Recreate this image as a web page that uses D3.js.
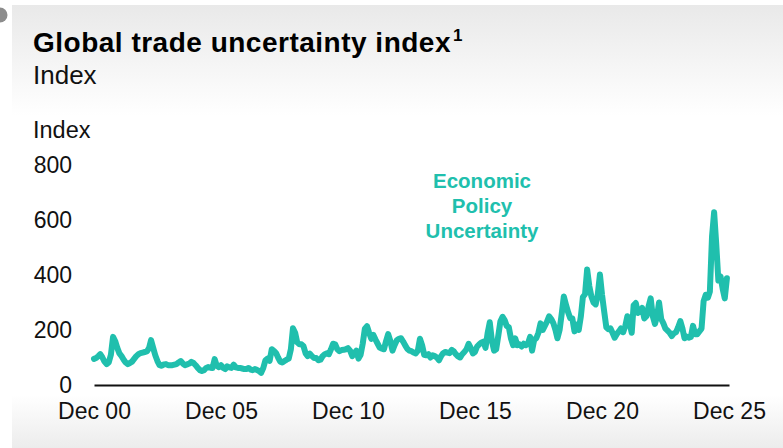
<!DOCTYPE html>
<html>
<head>
<meta charset="utf-8">
<script src="https://cdn.jsdelivr.net/npm/d3@7"></script>
<style>
  html, body { margin: 0; padding: 0; background: #fff; }
  svg { display: block; font-family: "Liberation Sans", Arial, sans-serif; }
</style>
</head>
<body>
<svg id="chart" width="783" height="448"></svg>
<script>
// monthly index values, starting Dec 2000
const epu2001to2005 = [
  95, 98, 105, 112, 100, 85, 76, 82, 110, 175, 160, 135,
  115, 105, 92, 82, 76, 80, 85, 95, 105, 112, 116, 118,
  120, 122, 135, 163, 135, 108, 87, 72, 70, 75, 76, 72,
  72, 72, 74, 76, 82, 87, 78, 72, 75, 78, 84, 80,
  72, 62, 54, 51, 54, 62, 65, 63, 62, 94, 70, 65
]
const epu2006to2010 = [
  72, 62, 58, 68, 64, 62, 74, 64, 62, 62, 60, 58,
  58, 62, 56, 54, 58, 55, 51, 44, 62, 90, 96, 88,
  130, 124, 116, 100, 85, 82, 87, 92, 96, 130, 206, 190,
  155, 148, 148, 141, 115, 105, 114, 105, 98, 98, 90, 92,
  105, 112, 115, 112, 130, 150, 148, 130, 123, 127, 128, 130
]
const epu2011to2015 = [
  134, 125, 105, 115, 125, 96, 110, 150, 205, 214, 190, 168,
  182, 165, 150, 136, 132, 130, 160, 185, 160, 125, 145, 162,
  168, 170, 158, 145, 132, 125, 123, 118, 115, 125, 168, 145,
  110, 108, 112, 100, 108, 105, 100, 90, 105, 116, 120, 118,
  116, 128, 122, 112, 104, 100, 112, 120, 130, 150, 135, 115
]
const epu2016to2020 = [
  120, 140, 148, 154, 158, 135, 190, 228, 160, 125, 130, 180,
  232, 248, 235, 215, 210, 170, 145, 170, 145, 148, 140, 150,
  145, 150, 175, 125, 165, 170, 190, 224, 200, 215, 230, 250,
  240, 225, 200, 170, 200, 258, 322, 293, 265, 243, 243, 195,
  220, 200, 250, 320, 330, 420, 360, 322, 300, 293, 330, 402
]
const epu2021to2025 = [
  329, 268, 210, 203, 206, 190, 172, 185, 195, 206, 192, 215,
  250, 225, 190, 290, 298, 262, 270, 280, 242, 250, 285, 315,
  250, 222, 250, 300, 240, 225, 205, 198, 190, 178, 188, 192,
  210, 232, 205, 170, 176, 172, 175, 215, 185, 185, 195, 205,
  305, 328, 318, 340, 540, 628, 510, 380, 395, 350, 315, 388
]
const yTicks = [0, 200, 400, 600, 800]
const xTickYears = [2000, 2005, 2010, 2015, 2020, 2025]

const lineColor = '#20bfad'
const width = 783
const height = 448
const margin = { top: 165, right: 54, bottom: 63, left: 94 }

const values = [].concat(epu2001to2005, epu2006to2010, epu2011to2015, epu2016to2020, epu2021to2025)
const start = new Date(2000, 11, 1)
const data = values.map((v, i) => ({ date: d3.timeMonth.offset(start, i), value: v }))

const svg = d3.select('#chart')

// card background
const defs = svg.append('defs')
const grad = defs.append('linearGradient')
  .attr('id', 'bg')
  .attr('x1', 0).attr('y1', 0).attr('x2', 0).attr('y2', 1)
grad.append('stop').attr('offset', '0%').attr('stop-color', '#e9e9e9')
grad.append('stop').attr('offset', '25%').attr('stop-color', '#ffffff')
grad.append('stop').attr('offset', '88%').attr('stop-color', '#ffffff')
grad.append('stop').attr('offset', '100%').attr('stop-color', '#ececec')

svg.append('rect')
  .attr('x', 12).attr('y', 5)
  .attr('width', width - 12).attr('height', height - 5)
  .attr('fill', 'url(#bg)')

svg.append('circle')
  .attr('cx', 0).attr('cy', 15).attr('r', 7.5)
  .attr('fill', '#8c8c8c')

// titles
const title = svg.append('text')
  .attr('x', 33).attr('y', 52)
  .attr('font-size', 28).attr('font-weight', 'bold').attr('fill', '#000')
  .attr('letter-spacing', 0.5)
title.append('tspan').text('Global trade uncertainty index')
title.append('tspan').attr('font-size', 17).attr('dy', -11).attr('dx', 2).text('1')

svg.append('text')
  .attr('x', 33).attr('y', 84)
  .attr('font-size', 26).attr('fill', '#111')
  .text('Index')

svg.append('text')
  .attr('x', 33).attr('y', 138)
  .attr('font-size', 23.5).attr('fill', '#111')
  .text('Index')

// scales
const x = d3.scaleTime()
  .domain([start, new Date(2025, 11, 1)])
  .range([margin.left, width - margin.right])
const y = d3.scaleLinear()
  .domain([0, 800])
  .range([height - margin.bottom, margin.top])

// y axis
const yAxis = svg.append('g')
  .attr('transform', `translate(${margin.left},0)`)
  .call(d3.axisLeft(y).tickValues(yTicks).tickSize(0).tickPadding(22))
yAxis.select('.domain').remove()
yAxis.selectAll('text')
  .attr('font-size', 23).attr('font-family', '"Liberation Sans", Arial, sans-serif')
  .attr('fill', '#111')

// line
const line = d3.line()
  .x(d => x(d.date))
  .y(d => y(d.value))

svg.append('path')
  .datum(data)
  .attr('fill', 'none')
  .attr('stroke', lineColor)
  .attr('stroke-width', 6)
  .attr('stroke-linejoin', 'round')
  .attr('stroke-linecap', 'round')
  .attr('d', line)

// x axis
const xAxis = svg.append('g')
  .attr('transform', `translate(0,${y(0)})`)
  .call(d3.axisBottom(x)
    .tickValues(xTickYears.map(yr => new Date(yr, 11, 1)))
    .tickFormat(d3.timeFormat('Dec %y'))
    .tickSize(0).tickSizeOuter(0).tickPadding(18))
xAxis.select('.domain')
  .attr('stroke', '#111').attr('stroke-width', 2)
xAxis.selectAll('text')
  .attr('font-size', 23).attr('font-family', '"Liberation Sans", Arial, sans-serif')
  .attr('fill', '#111')

// annotation
const note = svg.append('text')
  .attr('x', 482).attr('y', 188)
  .attr('text-anchor', 'middle')
  .attr('font-size', 20.5).attr('font-weight', 'bold')
  .attr('fill', lineColor)
;['Economic', 'Policy', 'Uncertainty'].forEach((t, i) => {
  note.append('tspan').attr('x', 482).attr('dy', i === 0 ? 0 : 25).text(t)
})
</script>
</body>
</html>
